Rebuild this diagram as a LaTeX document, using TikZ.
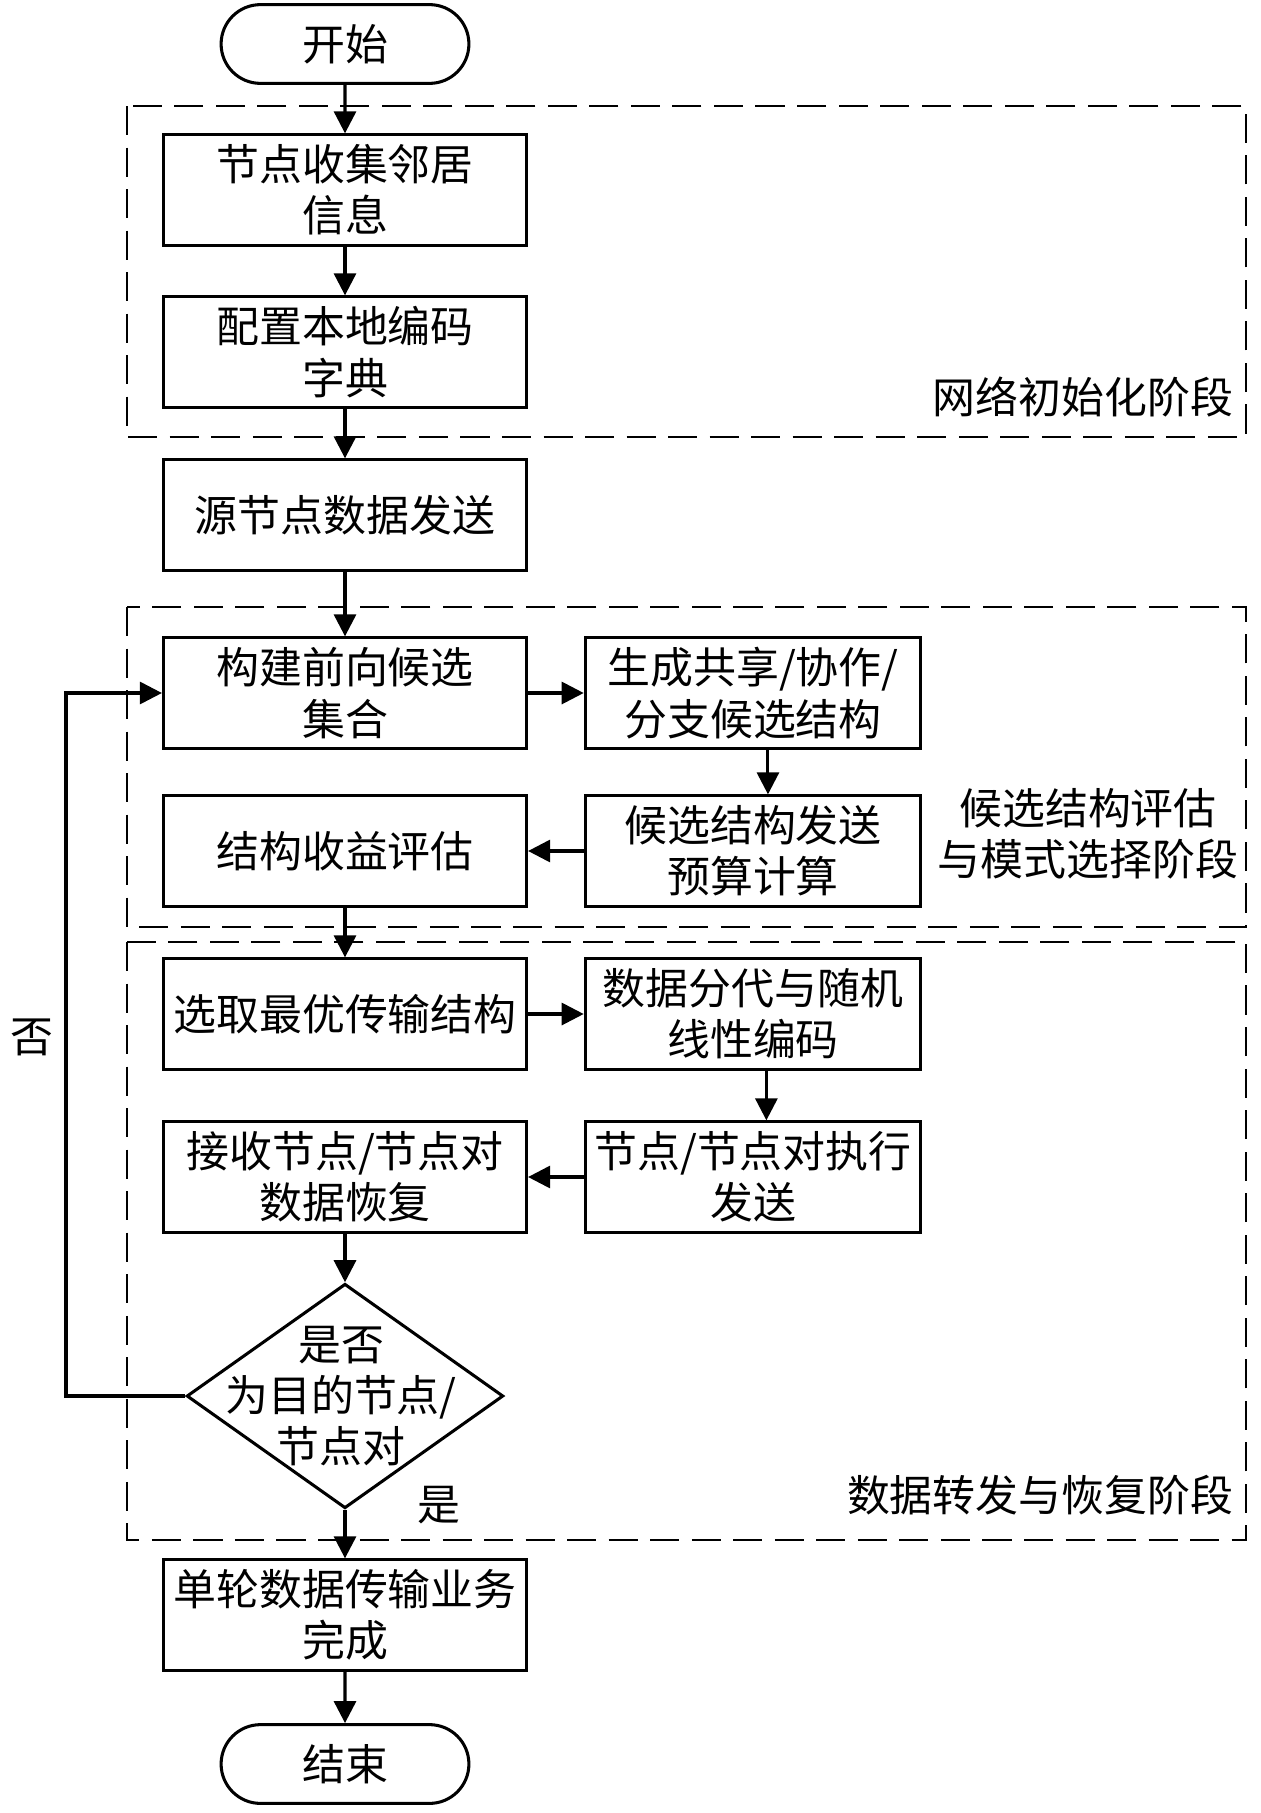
\documentclass[tikz,border=0pt]{standalone}
\usepackage{fontspec}
\setmainfont{Noto Sans CJK SC}
\usepackage{tikz}
\usetikzlibrary{shapes.geometric,shapes.misc,arrows.meta}

\begin{document}
\begin{tikzpicture}[x=0.0127cm, y=-0.0127cm,
    font=\fontsize{15.5pt}{18.5pt}\selectfont,
    box/.style={draw, line width=1.1pt, minimum width=4.61cm, minimum height=1.40cm, inner sep=0pt, align=center},
    rbox/.style={box, minimum width=4.26cm},
    term/.style={draw, rounded rectangle, line width=1.1pt, minimum width=3.38cm, minimum height=1.0cm},
    decide/.style={draw, diamond, line width=1.1pt, minimum width=4.02cm, minimum height=2.85cm, inner sep=0pt},
    stage/.style={line width=1.05pt, dash pattern=on 10.5pt off 4.5pt},
    flow/.style={line width=1.1pt, -{Triangle[length=0.28cm, width=0.28cm]}}]
    \useasboundingbox (0,0) rectangle (1260,1813);

    \draw[stage] (127,106) rectangle (1246,437);
    \draw[stage] (127,607) rectangle (1246,927);
    \draw[stage] (127,942) rectangle (1246,1540);
    \node [anchor=east] (s1) at (1243,397) {网络初始化阶段};
    \node [align=center] (s2) at (1088,834) {候选结构评估\\与模式选择阶段};
    \node [anchor=east] (s3) at (1243,1495) {数据转发与恢复阶段};

    \node [term] (start) at (345,44) {开始};
    \node [box] (collect) at (345,190) {节点收集邻居\\信息};
    \node [box] (dict) at (345,352) {配置本地编码\\字典};
    \node [box] (send) at (345,515) {源节点数据发送};
    \node [box] (cand) at (345,693) {构建前向候选\\集合};
    \node [rbox] (gen) at (753,693) {生成共享/协作/\\分支候选结构};
    \node [rbox] (budget) at (753,851) {候选结构发送\\预算计算};
    \node [box] (gain) at (345,851) {结构收益评估};
    \node [box] (best) at (345,1014) {选取最优传输结构};
    \node [rbox] (code) at (753,1014) {数据分代与随机\\线性编码};
    \node [rbox] (exec) at (753,1177) {节点/节点对执行\\发送};
    \node [box] (recv) at (345,1177) {接收节点/节点对\\数据恢复};
    \node [decide] (dest) at (345,1396) {};
    \node [align=center] (desttext) at (341,1396) {是否\\为目的节点/\\节点对};
    \node [box] (done) at (345,1615) {单轮数据传输业务\\完成};
    \node [term] (stop) at (345,1764) {结束};

    \node (no) at (32,1037) {否};
    \node (yes) at (439,1505) {是};
    \coordinate (turn) at (66,1396);

    \draw[flow] (start) -- (collect);
    \draw[flow] (collect) -- (dict);
    \draw[flow] (dict) -- (send);
    \draw[flow] (send) -- (cand);
    \draw[flow] (cand) -- (gen);
    \draw[flow] ([xshift=0.19cm]gen.south) -- ([xshift=0.19cm]budget.north);
    \draw[flow] (budget) -- (gain);
    \draw[flow] (gain) -- (best);
    \draw[flow] (best) -- (code);
    \draw[flow] ([xshift=0.17cm]code.south) -- ([xshift=0.17cm]exec.north);
    \draw[flow] (exec) -- (recv);
    \draw[flow] (recv) -- (dest);
    \draw[flow] (dest) -- (done);
    \draw[flow] (done) -- (stop);
    \draw[flow] (dest.west) -- (turn) |- (cand.west);
\end{tikzpicture}
\end{document}
